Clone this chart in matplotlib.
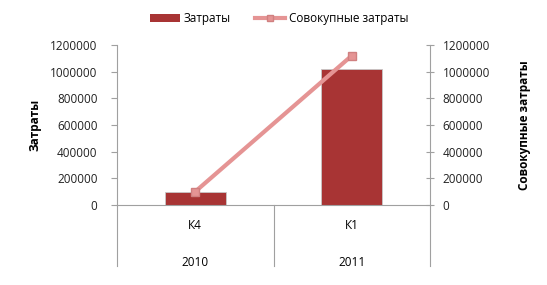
import numpy as np
import matplotlib.pyplot as plt
from matplotlib.lines import Line2D
from matplotlib.patches import Patch
from matplotlib.ticker import FuncFormatter

plt.rcParams['font.family'] = ['Open Sans', 'DejaVu Sans']

# Data
quarters = ['К4', 'К1']
years = ['2010', '2011']
costs = [100000, 1020000]
cumulative = [100000, 1120000]

BAR_COLOR = '#A83434'
LINE_COLOR = '#E59494'
AXIS_COLOR = '#A0A0A0'

fig = plt.figure(figsize=(5.47, 2.85), dpi=100)
ax = fig.add_axes([0.214, 0.281, 0.572, 0.561])
ax2 = ax.twinx()

x = np.arange(len(quarters))
ax.bar(x, costs, width=0.39, color=BAR_COLOR, edgecolor='#C8C8C8', linewidth=0.6, zorder=2)
ax2.plot(x, cumulative, color=LINE_COLOR, linewidth=3, marker='s', markersize=6,
         markerfacecolor=LINE_COLOR, markeredgecolor='#D08080', zorder=3)

fmt = FuncFormatter(lambda v, p: f'{int(v)}')
for a in (ax, ax2):
    a.set_xlim(-0.5, 1.5)
    a.set_ylim(0, 1200000)
    a.set_yticks(np.arange(0, 1200001, 200000))
    a.yaxis.set_major_formatter(fmt)
    for s in a.spines.values():
        s.set_visible(False)
    a.tick_params(axis='y', labelsize=8.5, labelcolor='#222222', color=AXIS_COLOR, width=0.8)

ax.spines['left'].set_visible(True)
ax.spines['left'].set_color(AXIS_COLOR)
ax.spines['bottom'].set_visible(True)
ax.spines['bottom'].set_color(AXIS_COLOR)
ax2.spines['right'].set_visible(True)
ax2.spines['right'].set_color(AXIS_COLOR)
ax2.tick_params(axis='y', direction='inout', length=6, pad=6)
ax.tick_params(axis='y', length=4, pad=10)
ax.set_xticks([])

ax.set_ylabel('Затраты', fontsize=8.5, fontweight='bold', labelpad=6)
ax2.set_ylabel('Совокупные затраты', fontsize=8.5, fontweight='bold', labelpad=20)

# Multi-level category axis below the plot
trans = ax.get_xaxis_transform()
for xs in (-0.5, 0.5, 1.5):
    ax.plot([xs, xs], [0, -0.38], transform=trans, color=AXIS_COLOR, linewidth=0.8, clip_on=False)
for i in range(len(quarters)):
    ax.text(x[i], -0.13, quarters[i], transform=trans, ha='center', va='center', fontsize=8.5)
    ax.text(x[i], -0.36, years[i], transform=trans, ha='center', va='center', fontsize=8.5)

handles = [Patch(facecolor=BAR_COLOR, edgecolor='none'),
           Line2D([0], [0], color=LINE_COLOR, linewidth=3, marker='s', markersize=5,
                  markerfacecolor=LINE_COLOR, markeredgecolor='#D08080')]
fig.legend(handles, ['Затраты', 'Совокупные затраты'], loc='center', bbox_to_anchor=(0.51, 0.935),
           ncol=2, frameon=False, fontsize=8.5, handlelength=2.6, handleheight=0.6,
           columnspacing=2.0, handletextpad=0.3)

fig.savefig('out.png', dpi=100)
